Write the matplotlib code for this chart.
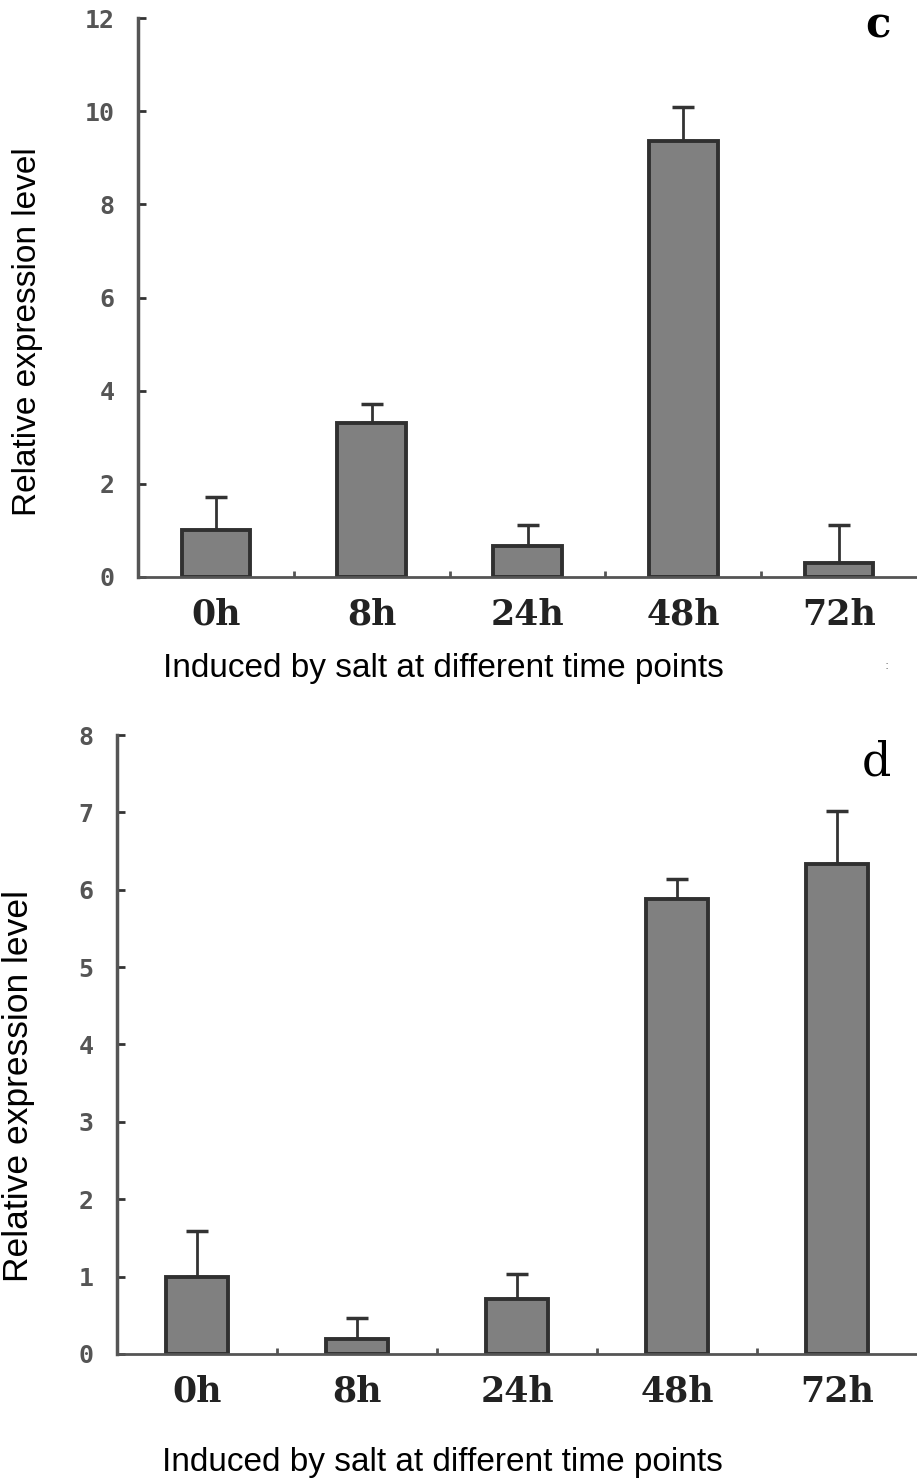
import numpy as np
import matplotlib
matplotlib.use("Agg")
import matplotlib.pyplot as plt

# salt induction, two panels
times = ["0h", "8h", "24h", "48h", "72h"]

c_mean = [1.0, 3.3, 0.66, 9.37, 0.30]
c_err = [0.72, 0.41, 0.46, 0.71, 0.82]

d_mean = [1.0, 0.19, 0.71, 5.88, 6.33]
d_err = [0.59, 0.28, 0.32, 0.26, 0.69]

W, H = 917, 1481
fig = plt.figure(figsize=(W / 100, H / 100), dpi=100)


def px(x, y):
    # pixel position (from top-left) -> figure fraction
    return x / W, 1 - y / H


def panel(rect, means, errs, ymax, width):
    ax = fig.add_axes(rect)
    x = np.arange(len(times))
    ax.bar(x, means, width=width, color="#808080", edgecolor="#303030",
           linewidth=2.8, zorder=2)
    ax.errorbar(x, means, yerr=[np.zeros(len(errs)), errs], fmt="none",
                ecolor="#333333", elinewidth=2, capsize=8, capthick=2.5,
                zorder=1)
    ax.set_xlim(-0.5, 4.5)
    ax.set_ylim(0, ymax)
    ax.set_xticks(x)
    ax.set_xticklabels(times, family="DejaVu Serif", fontweight="bold",
                       fontsize=25, color="#222222")
    ax.set_xticks(x[:-1] + 0.5, minor=True)
    ax.tick_params(axis="x", which="major", length=0, pad=15)
    ax.tick_params(axis="x", which="minor", direction="in", length=4,
                   width=2, color="#555555")
    ax.set_yticks(np.arange(0, ymax + 1, 2 if ymax > 8 else 1))
    ax.tick_params(axis="y", direction="in", length=6, width=2,
                   color="#333333", pad=17, labelsize=18, labelcolor="#555555")
    for lab in ax.get_yticklabels():
        lab.set_family("DejaVu Sans Mono")
        lab.set_fontweight("bold")
    for s in ["top", "right"]:
        ax.spines[s].set_visible(False)
    ax.spines["left"].set_linewidth(2.5)
    ax.spines["left"].set_color("#555555")
    ax.spines["bottom"].set_linewidth(2)
    ax.spines["bottom"].set_color("#555555")
    return ax


ax1 = panel([0.1505, 0.6104, 0.8495, 0.3774], c_mean, c_err, 12, 0.44)
ax2 = panel([0.1276, 0.0858, 0.8724, 0.4179], d_mean, d_err, 8, 0.39)

# panel letters
fig.text(*px(878, 37), "c", ha="center", va="baseline",
         family="DejaVu Serif", fontweight="bold", fontsize=30)
fig.text(*px(876, 775), "d", ha="center", va="baseline",
         family="DejaVu Serif", fontsize=33)

# axis titles
fig.text(*px(28, 332), "Relative expression level", rotation=90,
         ha="center", va="center", family="Liberation Sans", fontsize=24)
fig.text(*px(19, 1086), "Relative expression level", rotation=90,
         ha="center", va="center", family="Liberation Sans", fontsize=25.5)
fig.text(*px(443, 668), "Induced by salt at different time points",
         ha="center", va="center", family="Liberation Sans", fontsize=24)
fig.text(*px(442, 1462), "Induced by salt at different time points",
         ha="center", va="center", family="Liberation Sans", fontsize=24)
fig.text(*px(887, 665), ":", ha="center", va="center",
         fontsize=9, color="#777777")

fig.savefig("out.png", dpi=100)
